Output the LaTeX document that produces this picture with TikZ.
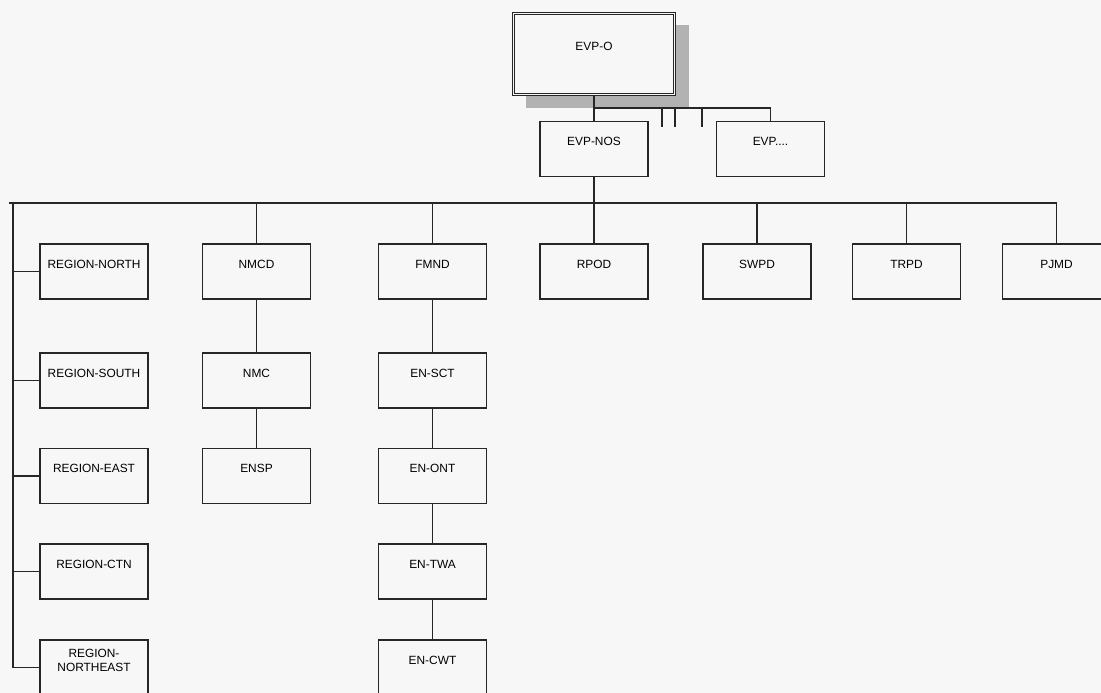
\documentclass[tikz,border=0pt]{standalone}
\usepackage{fontspec}
\setmainfont{Liberation Sans}
\begin{document}
\begin{tikzpicture}[x=1pt,y=-1pt,
  line join=miter,
  box/.style={draw=black!85, line width=1.5pt, fill=black!3, minimum width=108pt, minimum height=55pt,
    inner sep=0pt, font=\fontsize{11.9}{14}\selectfont, text height=8.5pt, text depth=15pt},
  tbox/.style={draw=black!85, line width=1.5pt, fill=black!3, minimum width=108pt, minimum height=55pt, inner sep=0pt},
  lbl/.style={font=\fontsize{11.9}{14}\selectfont, align=center, inner sep=0pt},
  conn/.style={draw=black!85, line width=1.5pt}]
\useasboundingbox (0,0) rectangle (1101,693);
\clip (0,0) rectangle (1101,693);
\fill[black!3] (0,0) rectangle (1101,693);

% top box with shadow
\fill[black!30] (526,25) rectangle (689,108);
\node[box, minimum width=161pt, minimum height=81pt, double=black!3, double distance=1.4pt, line width=1pt] (evpo) at (594,54) {EVP-O};

\node[box] (evpnos) at (594,149) {EVP-NOS};
\node[box] (evpx) at (770.5,149) {EVP....};

\coordinate (j1) at (594,108);
\coordinate (t1) at (662,108); \coordinate (t1e) at (662,127);
\coordinate (t2) at (675,108); \coordinate (t2e) at (675,127);
\coordinate (t3) at (702,108); \coordinate (t3e) at (702,127);
\draw[conn] (evpo.south) -- (evpnos.north);
\draw[conn] (j1) -| (evpx.north);
\draw[conn] (t1) -- (t1e);
\draw[conn] (t2) -- (t2e);
\draw[conn] (t3) -- (t3e);

% bus
\coordinate (busL) at (9,203);
\coordinate (busR) at (1057,203);
\coordinate (spine) at (13,203);
\draw[conn] (busL) -- (busR);
\draw[conn] (evpnos.south) -- (evpnos.south |- busL);

% row 1
\node[box] (rn) at (94,271.5) {REGION-NORTH};
\node[box] (nmcd) at (256.5,271.5) {NMCD};
\node[box] (fmnd) at (432.5,271.5) {FMND};
\node[box] (rpod) at (594,271.5) {RPOD};
\node[box] (swpd) at (757,271.5) {SWPD};
\node[box] (trpd) at (906.5,271.5) {TRPD};
\node[box] (pjmd) at (1056.5,271.5) {PJMD};
\foreach \n in {nmcd,fmnd,rpod,swpd,trpd,pjmd}
  \draw[conn] (\n.north) -- (\n.north |- busL);

% regions
\node[box] (rs) at (94,380.5) {REGION-SOUTH};
\node[box] (re) at (94,476) {REGION-EAST};
\node[box] (rc) at (94,571.5) {REGION-CTN};
\node[tbox] (rne) at (94,667.5) {};
\node[lbl] (rnet) at (94,660) {REGION-\\NORTHEAST};
\draw[conn] (spine) |- (rne.west);
\foreach \n in {rn,rs,re,rc}
  \draw[conn] (\n.west) -- (\n.west -| spine);

% NMCD column
\node[box] (nmc) at (256.5,380.5) {NMC};
\node[box] (ensp) at (256.5,476) {ENSP};
\draw[conn] (nmcd.south) -- (nmc.north);
\draw[conn] (nmc.south) -- (ensp.north);

% FMND column
\node[box] (ensct) at (432.5,380.5) {EN-SCT};
\node[box] (enont) at (432.5,476) {EN-ONT};
\node[box] (entwa) at (432.5,571.5) {EN-TWA};
\node[box] (encwt) at (432.5,667.5) {EN-CWT};
\draw[conn] (fmnd.south) -- (ensct.north);
\draw[conn] (ensct.south) -- (enont.north);
\draw[conn] (enont.south) -- (entwa.north);
\draw[conn] (entwa.south) -- (encwt.north);
\end{tikzpicture}
\end{document}
